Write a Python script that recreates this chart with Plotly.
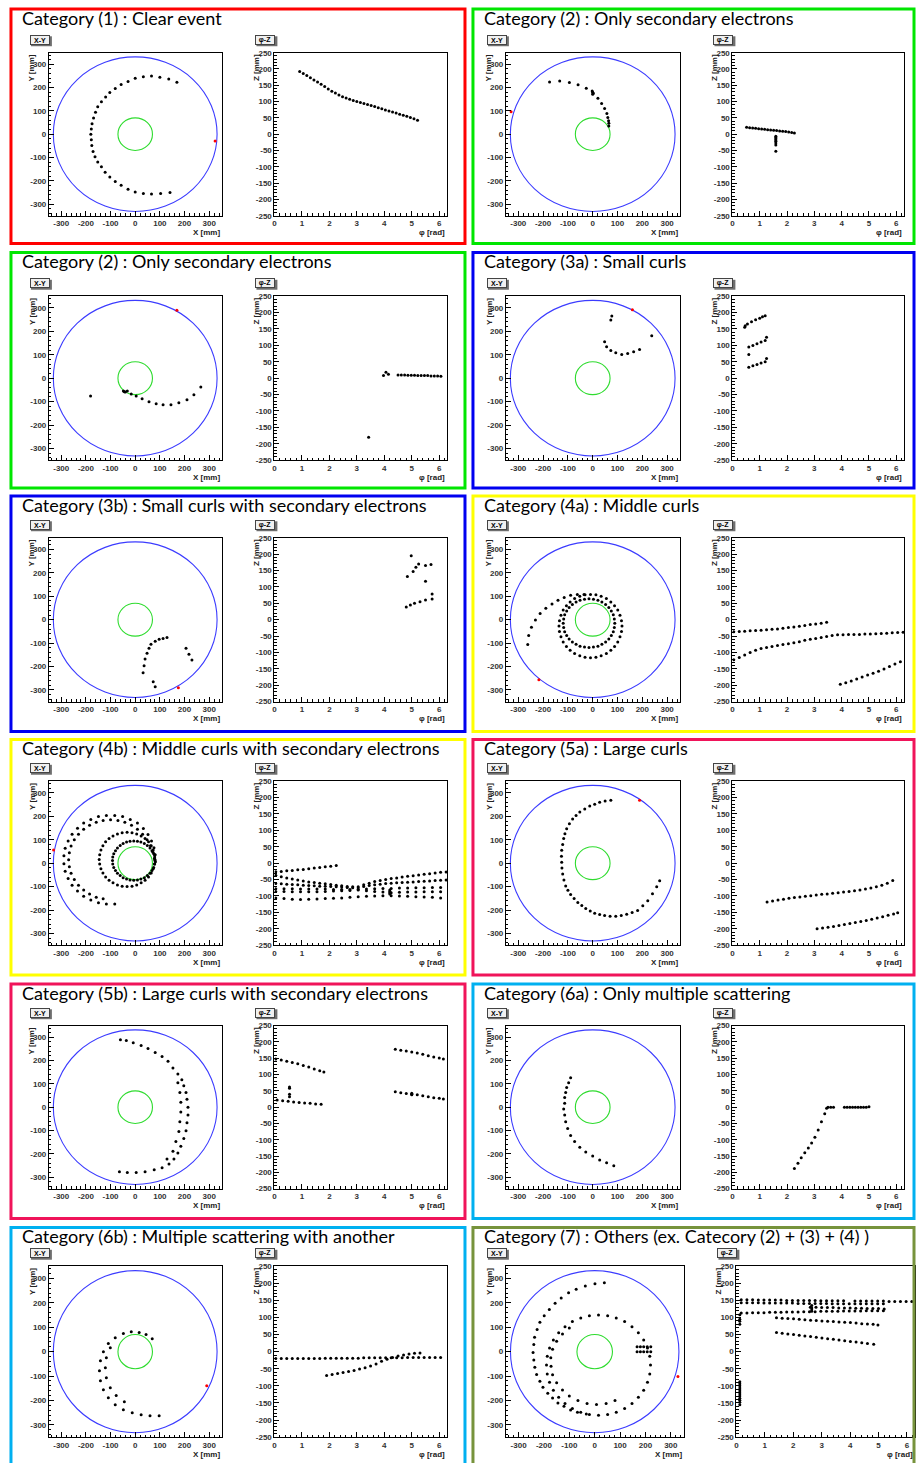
import plotly.graph_objects as go

FIG_W, FIG_H = 917, 1463

# detector geometry (mm)
OUTER_R = 332
INNER_R = 70

XY_TICKS = [-300, -200, -100, 0, 100, 200, 300]
PHI_TICKS = [0, 1, 2, 3, 4, 5, 6]
Z_TICKS = [-250, -200, -150, -100, -50, 0, 50, 100, 150, 200, 250]

TITLES = [
    "Category (1) : Clear event",
    "Category (2) : Only secondary electrons",
    "Category (2) : Only secondary electrons",
    "Category (3a) : Small curls",
    "Category (3b) : Small curls with secondary electrons",
    "Category (4a) : Middle curls",
    "Category (4b) : Middle curls with secondary electrons",
    "Category (5a) : Large curls",
    "Category (5b) : Large curls with secondary electrons",
    "Category (6a) : Only multiple scattering",
    "Category (6b) : Multiple scattering with another",
    "Category (7) : Others (ex. Catecory (2) + (3) + (4) )",
]
FRAME_COLORS = ["#ff0000", "#00e600", "#00e600", "#0000f0", "#0000f0", "#ffff00",
                "#ffff00", "#f0145a", "#f0145a", "#00b0f0", "#00b0f0", "#77933c"]

# ---------------- hits: X-Y view (mm) and phi-Z view (rad, mm) ----------------
c1_x = [169, 136, 100, 66, 33, 0, -29, -57, -81, -103, -120, -137, -152, -161, -169, -175, -178,
        -180, -178, -176, -171, -163, -152, -137, -122, -103, -81, -57, -29, 0, 33, 66, 103, 141]
c1_y = [223, 237, 245, 250, 247, 240, 226, 213, 196, 179, 160, 139, 118, 94, 70, 45, 22, 0, -24,
        -49, -74, -97, -119, -140, -163, -184, -203, -219, -236, -248, -255, -257, -255, -250]
c1_phi = [0.92, 1.05, 1.18, 1.31, 1.44, 1.57, 1.70, 1.83, 1.96, 2.09, 2.22, 2.35, 2.48, 2.61, 2.74,
          2.87, 3.00, 3.13, 3.26, 3.39, 3.52, 3.65, 3.78, 3.91, 4.04, 4.17, 4.30, 4.43, 4.56, 4.69,
          4.82, 4.95, 5.08, 5.21]
c1_z = [192, 186, 180, 173, 166, 160, 153, 146, 139, 132, 126, 120, 115, 111, 107, 103, 100, 97,
        94, 91, 88, 85, 81, 78, 74, 71, 68, 65, 61, 58, 55, 51, 47, 43]
c1_exit = [324, -29]

c2_x = [-174, -133, -94, -59, -26, -2, 0, 2, 0, 21, 36, 48, 57, 61, 64, 65, 65]
c2_y = [224, 228, 222, 212, 197, 186, 180, 176, 172, 154, 132, 110, 89, 72, 58, 47, 35]
c2_phi = [0.52, 0.63, 0.74, 0.85, 0.96, 1.07, 1.18, 1.29, 1.40, 1.51, 1.62, 1.73, 1.84, 1.95,
          2.06, 2.17, 2.27, 1.59, 1.59, 1.59, 1.59, 1.59, 1.59, 1.59, 1.59]
c2_z = [21, 20, 19, 18, 17, 16, 15, 14, 13, 12, 11, 10, 9, 8, 7, 5, 4,
        -6, -10, -14, -18, -22, -27, -33, -52]
c2_exit = [-329, 96]

c3_x = [-181, -48, -44, -40, -32, -16, 4, 28, 56, 85, 113, 145, 177, 210, 238, 266]
c3_y = [-76, -55, -58, -59, -55, -67, -76, -88, -101, -109, -113, -113, -105, -92, -71, -38]
c3_phi = [3.97, 4.06, 4.15, 4.50, 4.62, 4.74, 4.86, 4.98, 5.10, 5.22, 5.34, 5.46, 5.58, 5.70,
          5.82, 5.94, 6.06, 3.43]
c3_z = [8, 18, 12, 10, 10, 10, 9, 9, 9, 8, 8, 8, 8, 7, 7, 7, 6, -180]
c3_exit = [169, 290]

c4_x = [77, 73, 48, 56, 73, 93, 117, 141, 165, 189, 238]
c4_y = [265, 248, 155, 134, 118, 109, 101, 105, 113, 122, 181]
c4_phi = [0.45, 0.47, 0.55, 0.70, 0.85, 1.00, 1.10, 1.20,
          0.60, 0.75, 0.90, 1.05, 1.20, 1.25,
          0.60, 0.75, 0.90, 1.05, 1.20, 1.25, 0.60]
c4_z = [155, 160, 165, 172, 178, 183, 187, 190,
        95, 100, 105, 110, 115, 125,
        33, 38, 42, 46, 50, 60, 72]
c4_exit = [160, 292]

c5_x = [129, 113, 97, 81, 64, 56, 48, 40, 36, 32, 73, 81, 206, 218, 230]
c5_y = [-76, -80, -84, -92, -105, -122, -143, -168, -197, -227, -265, -286, -122, -147, -172]
c5_phi = [4.98, 5.05, 4.84, 5.15, 5.25, 5.50, 5.70, 5.50, 5.74, 5.74, 4.80, 4.95, 5.10, 5.30, 5.50]
c5_z = [195, 147, 132, 160, 170, 165, 168, 117, 78, 63, 39, 45, 50, 55, 60]
c5_exit = [175, -290]

c6_x = [-262, -258, -247, -231, -212, -189, -164, -140, -115, -89, -62, -35,
        -9, 13, 34, 55, 73, 88, 101, 110, 116, 118, 116, 110, 101, 88, 73, 55, 34, 13,
        -9, -31, -52, -73, -91, -106, -119, -128, -134, -136, -134, -128, -119, -106, -91, -73,
        -52, -31,
        -15, 3, 21, 37, 52, 65, 75, 83, 87, 89, 87, 83, 75, 65, 52, 37, 21, 3,
        -15, -33, -51, -67, -82, -95, -105, -113, -117, -119, -117, -113, -105, -95, -82, -67,
        -51, -33]
c6_y = [-106, -68, -32, -1, 26, 49, 67, 83, 95, 104, 108, 108,
        108, 106, 100, 90, 76, 60, 41, 19, -4, -27, -50, -73, -95, -114, -130, -144, -154, -160,
        -162, -160, -154, -144, -130, -114, -95, -73, -50, -27, -4, 19, 41, 60, 76, 90,
        100, 106,
        89, 87, 83, 75, 65, 52, 37, 21, 3, -15, -33, -51, -67, -82, -95, -105, -113, -117,
        -119, -117, -113, -105, -95, -82, -67, -51, -33, -15, 3, 21, 37, 52, 65, 75,
        83, 87]
c6_phi = [0.05, 0.25, 0.45, 0.65, 0.85, 1.05, 1.25, 1.45, 1.65, 1.85, 2.05, 2.25, 2.45, 2.65,
          2.85, 3.05, 3.25, 3.45,
          0.05, 0.25, 0.45, 0.65, 0.85, 1.05, 1.25, 1.45, 1.65, 1.85, 2.05, 2.25, 2.45, 2.65,
          2.85, 3.05, 3.25, 3.45, 3.65, 3.85, 4.05, 4.25, 4.45, 4.65, 4.85, 5.05, 5.25, 5.45,
          5.65, 5.85, 6.05, 6.25,
          3.95, 4.15, 4.35, 4.55, 4.75, 4.95, 5.15, 5.35, 5.55, 5.75, 5.95, 6.15]
c6_z = [-37, -36, -35, -34, -33, -32, -31, -29, -28, -26, -24, -22, -20, -18, -15, -13, -11, -8,
        -122, -115, -108, -100, -93, -88, -85, -82, -79, -76, -73, -70, -67, -63, -60, -57, -54,
        -51, -48, -46, -46, -45, -45, -45, -44, -44, -43, -42, -41, -40, -39, -38,
        -197, -192, -187, -181, -175, -169, -163, -157, -150, -143, -135, -128]
c6_exit = [-217, -256]

c7_x = [-83, -117, -149, -180, -209, -234, -256, -272, -284, -289, -289, -284, -272, -256, -234,
        -209, -180, -149, -117, -83, -51, -20, 9, 33, 52, 66, 76, 81, 82,
        -130, -158, -185, -209, -230, -247, -260, -267, -270, -267, -260, -247, -230, -209, -185,
        -158, -130, -100, -70, -42, -15, 9, 30, 48, 62, 72, 78,
        80, 78, 73, 65, 54, 40, 24, 6, -13, -33, -53, -72, -90, -106, -120, -131, -139, -144,
        -146, -144, -139, -131, -120, -106, -90, -72, -53, -33, -13, 6, 24, 40, 54, 65, 73, 78,
        80, 79, 75, 68, 60, 49, 37, 23, 9, -6, -21, -35, -49, -61, -72, -80, -87, -91, -92, -91,
        -87, -80, -72, -61, -49, -35, -21, -6, 9, 23, 37, 49, 60, 68, 75, 79]
c7_y = [-174, -174, -169, -157, -141, -119, -94, -65, -34, -2, 32, 64, 95, 124, 149, 171, 187,
        199, 204, 204, 199, 187, 171, 148, 122, 95, 66, 36, 6,
        -152, -145, -132, -115, -94, -70, -43, -15, 15, 45, 73, 100, 124, 145, 162, 175, 182,
        185, 182, 175, 162, 145, 124, 100, 74, 47, 20,
        16, -4, -24, -42, -59, -73, -84, -93, -98, -100, -98, -93, -84, -73, -59, -42, -24, -4,
        16, 36, 56, 74, 91, 105, 116, 125, 130, 132, 130, 125, 116, 105, 91, 74, 56, 36,
        11, -4, -18, -31, -43, -53, -62, -68, -72, -73, -72, -68, -62, -53, -43, -31, -18, -4,
        11, 26, 40, 53, 65, 75, 84, 90, 94, 95, 94, 90, 84, 75, 65, 53, 40, 26]
c7_phi = [0.05, 0.25, 0.45, 0.65, 0.85, 1.05, 1.25, 1.45, 1.65, 1.85, 2.05, 2.25,
          0.05, 0.25, 0.45, 0.65, 0.85, 1.05, 1.25, 1.45, 1.65, 1.85, 2.05, 2.25, 2.45, 2.65,
          2.85, 3.05, 3.25, 3.45, 3.65, 3.85, 4.05, 4.25, 4.45, 4.65, 4.85, 5.05, 5.25, 5.45,
          5.65, 5.85, 6.05, 6.25,
          0.05, 0.25, 0.45, 0.65, 0.85, 1.05, 1.25, 1.45, 1.65, 1.85, 2.05, 2.25, 2.45, 2.65,
          2.85, 3.05, 3.25, 3.45, 3.65, 3.85, 4.05, 4.25, 4.45, 4.65, 4.85, 5.05, 5.25, 5.45,
          5.65, 5.85, 6.05, 6.25,
          0.05, 0.35, 0.65, 0.95, 1.25, 1.55, 1.85, 2.15, 2.45, 2.75, 3.05, 3.35, 3.65, 3.95,
          4.25, 4.55, 4.85, 5.15, 5.45, 5.75, 6.05,
          0.05, 0.35, 0.65, 0.95, 1.25, 1.55, 1.85, 2.15, 2.45, 2.75, 3.05, 3.35, 3.65, 3.95,
          4.25, 4.55, 4.85, 5.15, 5.45, 5.75, 6.05,
          0.05, 0.35, 0.65, 0.95, 1.25, 1.55, 1.85, 2.15, 2.45, 2.75, 3.05, 3.35, 3.65, 3.95,
          4.25, 4.55, 4.85, 5.15, 5.45, 5.75, 6.05,
          4.20, 4.20, 4.20, 4.20]
c7_z = [-26, -25, -23, -22, -20, -19, -17, -15, -13, -11, -9, -7,
        -37, -41, -45, -48, -51, -54, -57, -59, -61, -63, -65, -67, -69, -71, -72, -72, -66, -61,
        -56, -53, -50, -47, -45, -42, -40, -38, -36, -34, -32, -30, -28, -27,
        -62, -63, -64, -65, -66, -67, -68, -69, -70, -70, -71, -72, -73, -74, -75, -76, -71, -68,
        -66, -64, -62, -61, -60, -59, -58, -57, -56, -55, -54, -53, -52, -51,
        -78, -78, -78, -79, -79, -79, -79, -80, -80, -80, -80, -79, -78, -77, -77, -76, -76, -75,
        -75, -74, -74,
        -86, -86, -87, -87, -87, -87, -86, -85, -84, -83, -82, -84, -86, -88, -90, -89, -88, -88,
        -87, -87, -87,
        -106, -108, -110, -111, -110, -109, -108, -107, -106, -104, -102, -101, -100, -99, -99,
        -100, -101, -102, -103, -104, -106,
        -82, -86, -90, -94]
c7_exit = [-331, 56]

c8_x = [73, 50, 28, 8, -12, -32, -52, -67, -81, -94, -105, -112, -117, -121, -125, -126, -125,
        -124, -121, -116, -109, -100, -89, -75, -60, -44, -28, -10, 8, 28, 48, 70, 93, 115, 137,
        159, 181, 202, 222, 241, 258, 270]
c8_y = [269, 265, 260, 252, 244, 231, 218, 204, 189, 168, 147, 126, 105, 80, 55, 30, 4, -21, -46,
        -72, -97, -116, -134, -151, -168, -181, -193, -204, -214, -219, -223, -226, -227, -223,
        -218, -210, -202, -182, -160, -131, -101, -75]
c8_phi = [1.27, 1.47, 1.67, 1.87, 2.07, 2.27, 2.47, 2.67, 2.87, 3.07, 3.27, 3.47, 3.67, 3.87,
          4.07, 4.27, 4.47, 4.67, 4.87, 5.07, 5.27, 5.47, 5.67, 5.87,
          3.10, 3.30, 3.50, 3.70, 3.90, 4.10, 4.30, 4.50, 4.70, 4.90, 5.10, 5.30, 5.50, 5.70,
          5.90, 6.05]
c8_z = [-118, -115, -112, -110, -107, -105, -103, -101, -99, -97, -95, -94, -92, -90, -88, -86,
        -84, -82, -79, -76, -72, -67, -61, -53,
        -200, -198, -195, -193, -190, -187, -184, -181, -178, -175, -171, -167, -163, -159, -155,
        -151]
c8_exit = [189, 269]

c9_x = [-60, -36, -8, 24, 52, 81, 109, 133, 153, 173, 189, 197, 206, 210, 214, 214, 210, 206,
        197, 185, 173, 157, 137, 109, 77, 40, 4, -32, -64,
        173, 181, 185, 185, 181, 177, 165, 153, 129]
c9_y = [290, 286, 277, 265, 252, 235, 218, 197, 168, 143, 118, 92, 63, 34, 0, -34, -67, -101,
        -134, -168, -197, -223, -244, -260, -269, -277, -281, -281, -277,
        105, 63, 21, -21, -63, -105, -147, -189, -223]
c9_phi = [0.05, 0.25, 0.45, 0.65, 0.85, 1.05, 1.25, 1.45, 1.65, 1.80,
          0.10, 0.30, 0.50, 0.70, 0.90, 1.10, 1.30, 1.50, 1.70,
          0.55, 0.55, 0.55, 0.55,
          4.40, 4.60, 4.80, 5.00, 5.20, 5.40, 5.60, 5.80, 6.00, 6.15,
          4.40, 4.60, 4.80, 5.00, 5.20, 5.40, 5.60, 5.80, 6.00, 6.15, 5.00, 5.00]
c9_z = [148, 145, 141, 137, 133, 128, 123, 117, 112, 108,
        22, 20, 18, 16, 14, 13, 12, 10, 9,
        62, 58, 40, 32,
        178, 175, 172, 169, 166, 162, 158, 154, 151, 148,
        47, 44, 42, 40, 38, 35, 32, 29, 27, 25, 38, 43]
c9_exit = [None, None]

c10_x = [-89, -97, -105, -109, -113, -113, -117, -113, -109, -101, -89, -73, -52, -28, 0, 28, 56,
         85]
c10_y = [126, 105, 84, 63, 42, 17, -8, -34, -63, -92, -122, -147, -172, -193, -210, -227, -239,
         -252]
c10_phi = [2.27, 2.40, 2.52, 2.65, 2.78, 2.90, 3.02, 3.14, 3.26, 3.38, 3.45,
           3.50, 3.60, 3.70, 4.10, 4.20, 4.30, 4.40, 4.50, 4.60, 4.70, 4.80, 4.90, 5.00]
c10_z = [-188, -172, -155, -140, -125, -110, -92, -70, -45, -20, -3,
         0, 0, 0, 0, 0, 0, 0, 0, 0, 0, 0, 0, 1]
c10_exit = [None, None]

c11_x = [69, 44, 16, -16, -48, -81, -109, -129, -141, -145, -141, -129, -109, -81, -48, -12, 24,
         60, 97, -101, -117, -121, -117, -101, -77, -44]
c11_y = [53, 70, 78, 82, 74, 57, 33, 0, -37, -78, -119, -156, -189, -217, -238, -250, -258,
         -262, -262, 16, -25, -66, -107, -148, -180, -205]
c11_phi = [0.05, 0.25, 0.45, 0.65, 0.85, 1.05, 1.25, 1.45, 1.65, 1.85, 2.05, 2.25, 2.45, 2.65,
           2.85, 3.05, 3.25, 3.45, 3.65, 3.85, 4.05, 4.25, 4.45, 4.65, 4.85, 5.05, 5.25, 5.45,
           5.65, 5.85, 6.05,
           1.90, 2.10, 2.30, 2.50, 2.70, 2.90, 3.10, 3.30, 3.50, 3.70, 3.90, 4.10, 4.30, 4.50,
           4.70, 4.90, 5.10, 5.30]
c11_z = [-20, -20, -20, -20, -20, -20, -20, -20, -20, -19, -19, -19, -19, -19, -19, -19, -18, -18,
         -18, -18, -18, -18, -18, -18, -17, -17, -17, -17, -17, -17, -17,
         -70, -67, -64, -61, -58, -55, -51, -47, -42, -36, -28, -22, -17, -13, -10, -7, -5, -4]
c11_exit = [290, -140]

c12_x = [38, 1, -37, -73, -103, -132, -156, -179, -199, -216, -227, -237, -240, -243, -240, -236,
         -229, -216, -204, -185, -166, -145, -121, -95, -68, -33,
         -21, -55, -88, -117, -142, -163, -178, -187, -190, -187, -178, -163, -142, -117, -88, -55,
         -21, 15, 51, 85, 118, 147, 172, 193, 208, 217, 220, 217, 208, 193, 172, 147, 118, 85, 51,
         15,
         -100, -127, -150, -166, -173, -172, -166, -150, -127, -100, -66, -30, 7, 45, 80,
         167, 180, 193, 207, 221, 167, 180, 193, 207, 221]
c12_y = [282, 278, 269, 256, 241, 220, 198, 173, 147, 120, 91, 59, 29, -3, -34, -64, -94, -121,
         -146, -170, -190, -210, -224, -239, -248, -255,
         147, 138, 123, 102, 77, 48, 15, -19, -55, -91, -125, -158, -187, -212, -233, -248, -257,
         -260, -257, -248, -233, -212, -187, -158, -125, -91, -55, -19, 15, 48, 77, 102, 123, 138,
         147, 150,
         97, 72, 43, 10, -25, -60, -95, -127, -157, -182, -200, -212, -216, -212, -200,
         20, 20, 20, 20, 20, 0, 0, 0, 0, 0]
c12_phi = [0.17, 0.37, 0.57, 0.77, 0.97, 1.17, 1.37, 1.57, 1.77, 1.97, 2.17, 2.37, 2.57, 2.77,
           2.97, 3.17, 3.37, 3.57, 3.77, 4.17, 4.37, 4.57, 4.77, 4.97, 5.17, 5.37, 5.57, 5.77,
           5.97, 6.17,
           0.17, 0.37, 0.57, 0.77, 0.97, 1.17, 1.37, 1.57, 1.77, 1.97, 2.17, 2.37, 2.57, 2.77,
           2.97, 3.17, 3.37, 3.57, 3.77, 3.97, 4.17, 4.37, 4.57, 4.77, 4.97, 5.17,
           2.60, 2.80, 3.00, 3.20, 3.40, 3.60, 3.80, 4.00, 4.20, 4.40, 4.60, 4.80, 5.00, 5.20,
           0.17, 0.37, 0.57, 0.77, 0.97, 1.17, 1.37, 1.57, 1.77, 1.97, 2.17, 2.37, 2.57, 2.77,
           2.97, 3.17, 3.37, 3.57, 3.77, 3.97, 4.17, 4.37, 4.57, 4.77, 4.97, 5.17,
           1.41, 1.61, 1.81, 2.01, 2.21, 2.41, 2.61, 2.81, 3.01, 3.21, 3.41, 3.61, 3.81, 4.01,
           4.21, 4.41, 4.61, 4.81, 4.98,
           1.41, 1.61, 1.81, 2.01, 2.21, 2.41, 2.61, 2.81, 3.01, 3.21, 3.41, 3.61, 3.81, 4.01,
           4.21, 4.41, 4.61, 4.83,
           0.12, 0.12, 0.12, 0.12, 0.12, 0.12, 0.12, 0.12, 0.12, 0.12, 0.12, 0.12, 0.12, 0.12,
           0.12, 0.12, 2.65, 2.65, 2.65, 2.65]
c12_z = [152, 152, 152, 151, 151, 151, 151, 151, 150, 150, 150, 150, 150, 150, 149, 149, 149,
         149, 149, 148, 148, 148, 148, 148, 148, 147, 147, 147, 147, 147,
         143, 143, 143, 143, 142, 142, 142, 142, 142, 142, 141, 141, 141, 141, 141, 141, 140, 140,
         140, 140, 140, 140, 140, 140, 140, 140,
         130, 130, 129, 129, 129, 128, 128, 128, 127, 127, 126, 126, 126, 125,
         113, 113, 114, 114, 114, 115, 115, 115, 116, 116, 116, 117, 117, 117, 118, 118, 118, 118,
         119, 119, 119, 119, 120, 120, 120, 120,
         99, 98, 97, 96, 95, 93, 92, 91, 90, 89, 88, 87, 86, 85, 84, 82, 81, 80, 78,
         56, 54, 52, 50, 48, 46, 44, 42, 40, 38, 36, 34, 32, 30, 28, 26, 24, 22,
         108, 95, 89, 80, -88, -94, -100, -106, -112, -118, -124, -130, -136, -142, -148, -155,
         135, 128, 122, 118]
c12_exit = [328, -102]

PANELS = [
    (c1_x, c1_y, c1_phi, c1_z, c1_exit),
    (c2_x, c2_y, c2_phi, c2_z, c2_exit),
    (c3_x, c3_y, c3_phi, c3_z, c3_exit),
    (c4_x, c4_y, c4_phi, c4_z, c4_exit),
    (c5_x, c5_y, c5_phi, c5_z, c5_exit),
    (c6_x, c6_y, c6_phi, c6_z, c6_exit),
    (c7_x, c7_y, c7_phi, c7_z, c7_exit),
    (c8_x, c8_y, c8_phi, c8_z, c8_exit),
    (c9_x, c9_y, c9_phi, c9_z, c9_exit),
    (c10_x, c10_y, c10_phi, c10_z, c10_exit),
    (c11_x, c11_y, c11_phi, c11_z, c11_exit),
    (c12_x, c12_y, c12_phi, c12_z, c12_exit),
]

# ---------------- page geometry (pixels) ----------------
BOX_X = [(9, 464), (472, 914)]
BOX_Y = [(5, 241), (250, 487), (495, 732), (740, 977), (986, 1222), (1231, 1480)]
XY_X = [(47, 220), (505, 679)]
PZ_X = [(273, 446), (732, 904)]
FRAME_Y = [(49, 213), (294, 459), (537, 702), (782, 947), (1028, 1192), (1270, 1442)]


def fx(px):
    return px / FIG_W


def fy(py):
    return 1 - py / FIG_H


TICK_FONT = dict(family="Liberation Sans", size=8, color="#333333", weight="bold")
LABEL_FONT = dict(family="Liberation Sans", size=8, color="#222222", weight="bold")


def axis_style(vals, rng, minor_step):
    return dict(
        range=rng, tickmode="array", tickvals=vals, ticktext=[str(v) for v in vals],
        showline=True, linecolor="black", linewidth=1, mirror=True,
        ticks="inside", ticklen=5, tickwidth=1, tickcolor="black",
        minor=dict(ticks="inside", ticklen=2.5, tickcolor="black", tick0=0, dtick=minor_step,
                   showgrid=False),
        showgrid=False, zeroline=False, tickfont=TICK_FONT, fixedrange=True,
    )


fig = go.Figure()
shapes, annotations = [], []
layout_axes = {}


def ax_key(kind, n):
    return f"{kind}axis" if n == 1 else f"{kind}axis{n}"


def ax_ref(kind, n):
    return kind if n == 1 else f"{kind}{n}"


def add_button(text, frame_left, frame_top):
    cx, cy = frame_left - 9, frame_top - 13
    shapes.append(dict(type="rect", xref="paper", yref="paper",
                       x0=fx(cx - 9), x1=fx(cx + 12), y0=fy(cy + 6.5), y1=fy(cy - 3.5),
                       fillcolor="#6e6e6e", line=dict(width=0)))
    annotations.append(dict(text=text, x=fx(cx), y=fy(cy), xref="paper", yref="paper",
                            showarrow=False, xanchor="center", yanchor="middle",
                            font=dict(family="Liberation Sans", size=7, color="black",
                                      weight="bold"),
                            bgcolor="#f0f0f0", bordercolor="#444444", borderwidth=1,
                            borderpad=0, width=18, height=8))


for i, (hx, hy, hphi, hz, hexit) in enumerate(PANELS):
    row, col = divmod(i, 2)
    bx0, bx1 = BOX_X[col]
    by0, by1 = BOX_Y[row]
    ft, fb = FRAME_Y[row]
    xy_l, xy_r = XY_X[col]
    pz_l, pz_r = PZ_X[col]
    if row == 5 and col == 1:
        xy_r, pz_l, pz_r = 683, 736, 915
    n_xy, n_pz = 2 * i + 1, 2 * i + 2

    # X-Y view
    xa = axis_style(XY_TICKS, [-350, 350], 20)
    xa.update(domain=[fx(xy_l), fx(xy_r)], anchor=ax_ref("y", n_xy))
    ya = axis_style(XY_TICKS, [-350, 350], 20)
    ya.update(domain=[fy(fb), fy(ft)], anchor=ax_ref("x", n_xy))
    layout_axes[ax_key("x", n_xy)] = xa
    layout_axes[ax_key("y", n_xy)] = ya

    # phi-Z view
    xb = axis_style(PHI_TICKS, [0, 6.2832], 0.2)
    xb.update(domain=[fx(pz_l), fx(pz_r)], anchor=ax_ref("y", n_pz))
    yb = axis_style(Z_TICKS, [-250, 250], 10)
    yb.update(domain=[fy(fb), fy(ft)], anchor=ax_ref("x", n_pz))
    layout_axes[ax_key("x", n_pz)] = xb
    layout_axes[ax_key("y", n_pz)] = yb

    # detector outlines
    for r, c in ((OUTER_R, "#3c3cff"), (INNER_R, "#2fdc2f")):
        shapes.append(dict(type="circle", xref=ax_ref("x", n_xy), yref=ax_ref("y", n_xy),
                           x0=-r, x1=r, y0=-r, y1=r, line=dict(color=c, width=1.1),
                           layer="below"))

    fig.add_trace(go.Scatter(x=hx, y=hy, mode="markers", xaxis=ax_ref("x", n_xy),
                             yaxis=ax_ref("y", n_xy), hoverinfo="skip",
                             marker=dict(size=3, color="black", line=dict(width=0))))
    if hexit[0] is not None:
        fig.add_trace(go.Scatter(x=[hexit[0]], y=[hexit[1]], mode="markers",
                                 xaxis=ax_ref("x", n_xy), yaxis=ax_ref("y", n_xy),
                                 hoverinfo="skip",
                                 marker=dict(size=3, color="red", line=dict(width=0))))
    fig.add_trace(go.Scatter(x=hphi, y=hz, mode="markers", xaxis=ax_ref("x", n_pz),
                             yaxis=ax_ref("y", n_pz), hoverinfo="skip",
                             marker=dict(size=3, color="black", line=dict(width=0))))

    # panel frame and heading
    shapes.append(dict(type="rect", xref="paper", yref="paper",
                       x0=fx(bx0), x1=fx(bx1), y0=fy(by1), y1=fy(by0),
                       line=dict(color=FRAME_COLORS[i], width=3)))
    annotations.append(dict(text=TITLES[i], x=fx(bx0 + 9), y=fy(by0 + 9), xref="paper",
                            yref="paper", showarrow=False, xanchor="left", yanchor="middle",
                            font=dict(family="Lato", size=18, color="black")))

    add_button("X-Y", xy_l, ft)
    add_button("φ-Z", pz_l, ft)

    # axis titles
    annotations.append(dict(text="X [mm]", x=fx(xy_r), y=fy(fb + 17), xref="paper",
                            yref="paper", showarrow=False, xanchor="right", yanchor="middle",
                            font=LABEL_FONT))
    annotations.append(dict(text="φ [rad]", x=fx(pz_r), y=fy(fb + 17), xref="paper",
                            yref="paper", showarrow=False, xanchor="right", yanchor="middle",
                            font=LABEL_FONT))
    annotations.append(dict(text="Y [mm]", x=fx(xy_l - 17), y=fy(ft + 15), xref="paper",
                            yref="paper", showarrow=False, textangle=-90, xanchor="center",
                            yanchor="middle", font=LABEL_FONT))
    annotations.append(dict(text="Z [mm]", x=fx(pz_l - 18), y=fy(ft + 15), xref="paper",
                            yref="paper", showarrow=False, textangle=-90, xanchor="center",
                            yanchor="middle", font=LABEL_FONT))

fig.update_layout(
    width=FIG_W, height=FIG_H, autosize=False,
    margin=dict(l=0, r=0, t=0, b=0),
    paper_bgcolor="white", plot_bgcolor="white", showlegend=False,
    shapes=shapes, annotations=annotations, **layout_axes,
)

fig.write_html("out.html")
